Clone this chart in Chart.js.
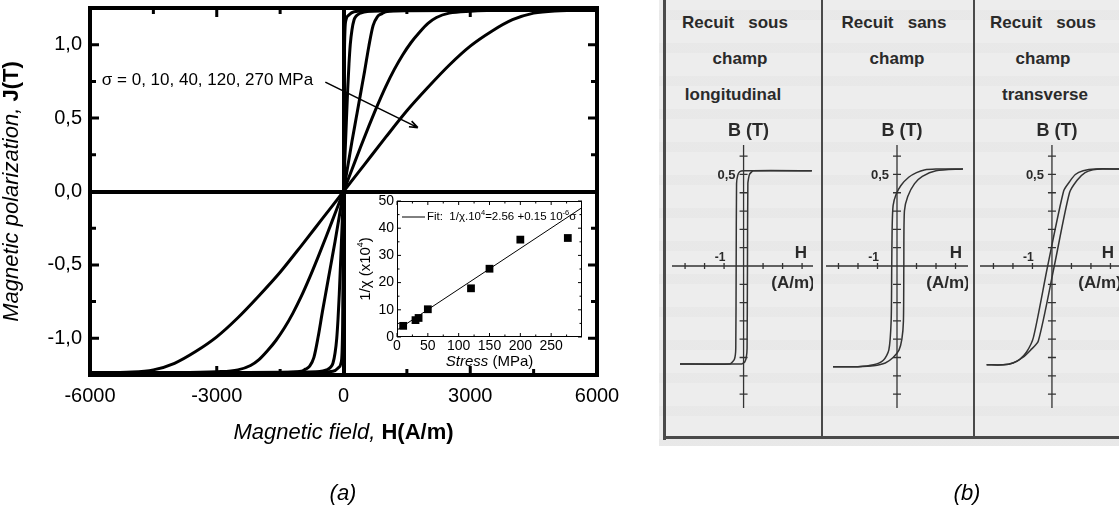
<!DOCTYPE html>
<html>
<head>
<meta charset="utf-8">
<title>Magnetic polarization under stress / annealing hysteresis loops</title>
<script src="https://cdn.jsdelivr.net/npm/chart.js@4.4.1/dist/chart.umd.min.js"></script>
<style>
  html, body { margin: 0; padding: 0; background: #fff; overflow: hidden; }
  #fig { position: relative; width: 1119px; height: 510px; overflow: hidden;
         font-family: "Liberation Sans", Arial, Helvetica, sans-serif; }
  canvas { position: absolute; display: block; }
  .tag { position: absolute; font-style: italic; font-size: 22px; color: #000;
         transform: translate(-50%, -50%); }
  #panelB { position: absolute; left: 0; top: 0; width: 1119px; height: 510px; filter: blur(0.45px); }
  #scanBg { position: absolute; left: 659px; top: 0; width: 470px; height: 446px; background-color: #ededed;
            background-image: repeating-linear-gradient(to bottom,
              rgba(0,0,0,0) 0px, rgba(0,0,0,0) 10px,
              rgba(0,0,0,0.018) 10px, rgba(0,0,0,0.018) 20px,
              rgba(0,0,0,0) 20px, rgba(0,0,0,0) 33px); }
  .rule { position: absolute; background: #4a4a4a; }
  .bt { position: absolute; font-weight: bold; font-size: 17px; color: #2a2a2a;
        transform: translate(-50%, -50%); white-space: pre; }
</style>
</head>
<body>
<div id="fig">
  <canvas id="cMain" width="640" height="510" style="left:0;top:0"></canvas>
  <canvas id="cInset" width="260" height="190" style="left:340px;top:190px"></canvas>
  <div class="tag" style="left:343px;top:493px">(a)</div>

  <div id="panelB">
    <div id="scanBg"></div>
    <div class="rule" style="left:663px;top:0;width:3px;height:440px"></div>
    <div class="rule" style="left:821px;top:0;width:2px;height:438px"></div>
    <div class="rule" style="left:973px;top:0;width:2px;height:438px"></div>
    <div class="rule" style="left:663px;top:436px;width:460px;height:3px"></div>

    <div class="bt" style="left:735px;top:23px">Recuit   sous</div>
    <div class="bt" style="left:740px;top:59px">champ</div>
    <div class="bt" style="left:733px;top:95px">longitudinal</div>

    <div class="bt" style="left:894px;top:23px">Recuit   sans</div>
    <div class="bt" style="left:897px;top:59px">champ</div>

    <div class="bt" style="left:1043px;top:23px">Recuit   sous</div>
    <div class="bt" style="left:1043px;top:59px">champ</div>
    <div class="bt" style="left:1045px;top:95px">transverse</div>

    <canvas id="cLong"  width="141" height="445" style="left:672px;top:0"></canvas>
    <canvas id="cSans"  width="142" height="445" style="left:826px;top:0"></canvas>
    <canvas id="cTrans" width="140" height="445" style="left:980px;top:0"></canvas>
  </div>
  <div class="tag" style="left:967px;top:493px">(b)</div>
</div>

<script>
const FONT = '"Liberation Sans", Arial, Helvetica, sans-serif';

// ---------- (a) J(H) curves for increasing tensile stress ----------
const stressLevels = [0, 10, 40, 120, 270]; // MPa

const fieldS0 = [-6000, -1500, -500, -250, -120, -60, -35, -20, -10, 0, 10, 20, 35, 60, 120, 250, 500, 1500, 6000];
const polS0   = [-1.235, -1.233, -1.23, -1.225, -1.2, -1.17, -1.1, -0.9, -0.5, 0, 0.5, 0.9, 1.1, 1.17, 1.2, 1.225, 1.23, 1.233, 1.235];

const fieldS10 = [-6000, -2000, -1000, -600, -400, -300, -250, -200, -160, -130, -100, -50, 0, 50, 100, 130, 160, 200, 250, 300, 400, 600, 1000, 2000, 6000];
const polS10   = [-1.235, -1.234, -1.232, -1.228, -1.215, -1.195, -1.17, -1.1, -1.0, -0.87, -0.7, -0.35, 0, 0.35, 0.7, 0.87, 1.0, 1.1, 1.17, 1.195, 1.215, 1.228, 1.232, 1.234, 1.235];

const fieldS40 = [-6000, -3000, -1500, -1000, -900, -800, -700, -600, -500, -400, -300, -200, -100, 0, 100, 200, 300, 400, 500, 600, 700, 800, 900, 1000, 1500, 3000, 6000];
const polS40   = [-1.235, -1.234, -1.232, -1.225, -1.21, -1.19, -1.13, -0.99, -0.82, -0.66, -0.5, -0.34, -0.17, 0, 0.17, 0.34, 0.5, 0.66, 0.82, 0.99, 1.13, 1.19, 1.21, 1.225, 1.232, 1.234, 1.235];

const fieldS120 = [-6000, -4000, -3000, -2500, -2200, -2000, -1800, -1600, -1400, -1200, -1000, -800, -600, -400, -200, 0, 200, 400, 600, 800, 1000, 1200, 1400, 1600, 1800, 2000, 2200, 2500, 3000, 4000, 6000];
const polS120   = [-1.235, -1.234, -1.228, -1.215, -1.185, -1.145, -1.085, -1.015, -0.93, -0.83, -0.715, -0.585, -0.445, -0.3, -0.15, 0, 0.15, 0.3, 0.445, 0.585, 0.715, 0.83, 0.93, 1.015, 1.085, 1.145, 1.185, 1.215, 1.228, 1.234, 1.235];

const fieldS270 = [-6000, -5000, -4500, -4000, -3500, -3000, -2500, -2000, -1500, -1000, -500, 0, 500, 1000, 1500, 2000, 2500, 3000, 3500, 4000, 4500, 5000, 6000];
const polS270   = [-1.235, -1.23, -1.215, -1.17, -1.09, -0.99, -0.86, -0.71, -0.55, -0.37, -0.185, 0, 0.185, 0.37, 0.55, 0.71, 0.86, 0.99, 1.09, 1.17, 1.215, 1.23, 1.235];

const fieldTicks      = [-6000, -3000, 0, 3000, 6000];
const fieldMinorTicks = [-4500, -1500, 1500, 4500];
const polTicks        = [-1, -0.5, 0, 0.5, 1];
const polMinorTicks   = [-0.75, -0.25, 0.25, 0.75];

// annotation: stress list with an arrow pointing along increasing stress
const stressNote = 'σ = 0, 10, 40, 120, 270 MPa';
const noteAnchor = { H: -5720, J: 0.76 };
const arrowFrom  = { H: -430, J: 0.745 };
const arrowTo    = { H: 1760, J: 0.435 };

// ---------- inset: inverse susceptibility vs stress ----------
const stressMPa   = [10, 30, 35, 50, 120, 150, 200, 277];
const invChi      = [4.1, 6.2, 7.0, 10.2, 17.9, 25.1, 35.8, 36.4];
const fitIntercept = 2.56;   // 1/χ·10⁴ at σ = 0
const fitSlope     = 0.15;   // per MPa (0.15·10⁻⁶ per Pa)
const fitRange     = [0, 300];
const stressTicks      = [0, 50, 100, 150, 200, 250];
const stressMinorTicks = [25, 75, 125, 175, 225, 275];
const invChiTicks      = [0, 10, 20, 30, 40, 50];
const invChiMinorTicks = [5, 15, 25, 35, 45];

// ---------- (b) B(H) loops after annealing ----------
const longDescH = [3.5, 0.0, -0.2, -0.3, -0.36, -0.38, -0.4, -0.47, -0.7, -3.26];
const longDescB = [0.52, 0.52, 0.515, 0.495, 0.45, 0, -0.45, -0.51, -0.535, -0.535];
const longAscH  = [-3.26, -0.1, 0.06, 0.14, 0.18, 0.2, 0.22, 0.3, 0.5, 3.5];
const longAscB  = [-0.535, -0.535, -0.525, -0.5, -0.45, 0, 0.45, 0.5, 0.52, 0.52];

const sansDescH = [3.38, 2.0, 1.4, 1.0, 0.6, 0.2, -0.05, -0.2, -0.25, -0.27, -0.3, -0.42, -0.7, -1.2, -2.0, -3.28];
const sansDescB = [0.53, 0.53, 0.525, 0.51, 0.485, 0.44, 0.39, 0.33, 0.2, 0, -0.3, -0.46, -0.515, -0.54, -0.55, -0.55];
const sansAscH  = [-3.28, -2.0, -1.2, -0.6, -0.2, 0.1, 0.25, 0.33, 0.35, 0.38, 0.55, 0.9, 1.3, 2.0, 3.38];
const sansAscB  = [-0.55, -0.55, -0.545, -0.53, -0.5, -0.46, -0.4, -0.3, 0, 0.3, 0.38, 0.45, 0.49, 0.52, 0.53];

const transDescH = [3.5, 2.2, 1.6, 1.2, 0.9, 0.6, -0.22, -0.95, -1.3, -1.65, -2.0, -2.5, -3.35];
const transDescB = [0.53, 0.53, 0.52, 0.5, 0.46, 0.41, 0, -0.39, -0.47, -0.51, -0.53, -0.54, -0.54];
const transAscH  = [-3.35, -2.5, -2.0, -1.5, -1.1, -0.7, 0.12, 0.9, 1.3, 1.7, 2.1, 2.6, 3.5];
const transAscB  = [-0.54, -0.54, -0.53, -0.5, -0.46, -0.41, 0, 0.4, 0.47, 0.51, 0.525, 0.53, 0.53];

const loopHTicks = [-3, -2, -1, 1, 2, 3];
const loopBTicks = [-0.7, -0.6, -0.5, -0.4, -0.3, -0.2, -0.1, 0.1, 0.2, 0.3, 0.4, 0.5, 0.6];

// ---------- helpers ----------
const toPoints = (xs, ys) => xs.map((v, i) => ({ x: v, y: ys[i] }));

// draws a sequence of text runs (mixed styles / superscripts) starting at x
function drawRuns(ctx, runs, x, y, align) {
  let total = 0;
  runs.forEach(r => { ctx.font = r.f; total += ctx.measureText(r.t).width; });
  let cx = align === 'center' ? x - total / 2 : x;
  ctx.textAlign = 'left';
  runs.forEach(r => {
    ctx.font = r.f;
    ctx.fillText(r.t, cx, y + (r.dy || 0));
    cx += ctx.measureText(r.t).width;
  });
}

// ---------- main chart ----------
const mainDecor = {
  id: 'mainDecor',
  afterDraw(chart) {
    const { ctx, chartArea: a, scales: { x, y } } = chart;
    ctx.save();
    ctx.strokeStyle = '#000';
    ctx.lineWidth = 3;
    ctx.beginPath();
    const vTick = (px, len) => { ctx.moveTo(px, a.bottom); ctx.lineTo(px, a.bottom - len); ctx.moveTo(px, a.top); ctx.lineTo(px, a.top + len); };
    const hTick = (py, len) => { ctx.moveTo(a.left, py); ctx.lineTo(a.left + len, py); ctx.moveTo(a.right, py); ctx.lineTo(a.right - len, py); };
    fieldTicks.forEach(v => vTick(x.getPixelForValue(v), 9));
    fieldMinorTicks.forEach(v => vTick(x.getPixelForValue(v), 6));
    polTicks.forEach(v => hTick(y.getPixelForValue(v), 9));
    polMinorTicks.forEach(v => hTick(y.getPixelForValue(v), 6));
    ctx.stroke();
    ctx.lineWidth = 4;
    ctx.strokeRect(a.left, a.top, a.right - a.left, a.bottom - a.top);

    // axis titles
    ctx.fillStyle = '#000';
    ctx.textBaseline = 'middle';
    drawRuns(ctx, [
      { t: 'Magnetic field, ', f: 'italic 22px ' + FONT },
      { t: 'H(A/m)', f: 'bold 22px ' + FONT }
    ], (a.left + a.right) / 2, 433, 'center');
    ctx.save();
    ctx.translate(12, (a.top + a.bottom) / 2);
    ctx.rotate(-Math.PI / 2);
    drawRuns(ctx, [
      { t: 'Magnetic polarization, ', f: 'italic 22px ' + FONT },
      { t: 'J(T)', f: 'bold 22px ' + FONT }
    ], 0, 0, 'center');
    ctx.restore();

    // stress annotation and arrow
    ctx.font = '17px ' + FONT;
    ctx.textAlign = 'left';
    ctx.fillText(stressNote, x.getPixelForValue(noteAnchor.H), y.getPixelForValue(noteAnchor.J));
    const x1 = x.getPixelForValue(arrowFrom.H), y1 = y.getPixelForValue(arrowFrom.J);
    const x2 = x.getPixelForValue(arrowTo.H),   y2 = y.getPixelForValue(arrowTo.J);
    ctx.lineWidth = 1.6;
    ctx.beginPath();
    ctx.moveTo(x1, y1); ctx.lineTo(x2, y2);
    const ang = Math.atan2(y2 - y1, x2 - x1);
    ctx.moveTo(x2, y2); ctx.lineTo(x2 - 9 * Math.cos(ang - 0.35), y2 - 9 * Math.sin(ang - 0.35));
    ctx.moveTo(x2, y2); ctx.lineTo(x2 - 9 * Math.cos(ang + 0.35), y2 - 9 * Math.sin(ang + 0.35));
    ctx.stroke();
    ctx.restore();
  }
};

const curveSets = [
  [fieldS0, polS0], [fieldS10, polS10], [fieldS40, polS40], [fieldS120, polS120], [fieldS270, polS270]
];

new Chart(document.getElementById('cMain'), {
  type: 'scatter',
  data: {
    datasets: curveSets.map(([h, j], i) => ({
      label: 'σ = ' + stressLevels[i] + ' MPa',
      data: toPoints(h, j),
      showLine: true,
      borderColor: '#000',
      borderWidth: 3,
      pointRadius: 0,
      cubicInterpolationMode: 'monotone',
      fill: false
    }))
  },
  options: {
    responsive: false, animation: false, devicePixelRatio: 1, events: [],
    layout: { padding: { left: 0, top: 8, right: 43, bottom: 0 } },
    plugins: { legend: { display: false }, tooltip: { enabled: false } },
    scales: {
      x: {
        type: 'linear', min: -6000, max: 6000,
        afterBuildTicks: s => { s.ticks = fieldTicks.map(v => ({ value: v })); },
        afterFit: s => { s.height = 135; s.paddingLeft = 0; s.paddingRight = 0; },
        grid: { color: c => (c.tick && c.tick.value === 0) ? '#000' : 'rgba(0,0,0,0)', lineWidth: 4, drawTicks: false },
        border: { display: false },
        ticks: { color: '#000', padding: 9, maxRotation: 0, autoSkip: false,
                 font: { family: FONT, size: 20 }, callback: v => String(v) }
      },
      y: {
        type: 'linear', min: -1.25, max: 1.25,
        afterBuildTicks: s => { s.ticks = polTicks.map(v => ({ value: v })); },
        afterFit: s => { s.width = 90; s.paddingTop = 0; s.paddingBottom = 0; },
        grid: { color: c => (c.tick && c.tick.value === 0) ? '#000' : 'rgba(0,0,0,0)', lineWidth: 4, drawTicks: false },
        border: { display: false },
        ticks: { color: '#000', padding: 8, autoSkip: false,
                 font: { family: FONT, size: 20 },
                 callback: v => v.toFixed(1).replace('.', ',') }
      }
    }
  },
  plugins: [mainDecor]
});

// ---------- inset chart ----------
const insetDecor = {
  id: 'insetDecor',
  beforeDraw(chart) {
    const { ctx, chartArea: a } = chart;
    ctx.save();
    ctx.fillStyle = '#fff';
    ctx.fillRect(a.left, a.top, a.right - a.left, a.bottom - a.top);
    ctx.restore();
  },
  afterDraw(chart) {
    const { ctx, chartArea: a, scales: { x, y } } = chart;
    ctx.save();
    ctx.strokeStyle = '#000';
    ctx.lineWidth = 1;
    ctx.beginPath();
    const vTick = (px, len) => { ctx.moveTo(px, a.bottom); ctx.lineTo(px, a.bottom - len); ctx.moveTo(px, a.top); ctx.lineTo(px, a.top + len); };
    const hTick = (py, len) => { ctx.moveTo(a.left, py); ctx.lineTo(a.left + len, py); ctx.moveTo(a.right, py); ctx.lineTo(a.right - len, py); };
    stressTicks.forEach(v => vTick(x.getPixelForValue(v), 4));
    stressMinorTicks.forEach(v => vTick(x.getPixelForValue(v), 2.5));
    invChiTicks.forEach(v => hTick(y.getPixelForValue(v), 4));
    invChiMinorTicks.forEach(v => hTick(y.getPixelForValue(v), 2.5));
    ctx.stroke();
    ctx.strokeRect(a.left + 0.5, a.top + 0.5, a.right - a.left - 1, a.bottom - a.top - 1);

    // legend for the fit line
    const ly = a.top + 16;
    ctx.beginPath();
    ctx.moveTo(a.left + 5, ly); ctx.lineTo(a.left + 28, ly);
    ctx.stroke();
    ctx.fillStyle = '#000';
    ctx.textBaseline = 'middle';
    drawRuns(ctx, [
      { t: 'Fit:  1/χ.10', f: '11.5px ' + FONT },
      { t: '4', f: '7.5px ' + FONT, dy: -4 },
      { t: '=2.56 +0.15 10', f: '11.5px ' + FONT },
      { t: '-6', f: '7.5px ' + FONT, dy: -4 },
      { t: 'σ', f: '11.5px ' + FONT }
    ], a.left + 30, ly, 'left');

    // axis titles
    drawRuns(ctx, [
      { t: 'Stress', f: 'italic 15px ' + FONT },
      { t: ' (MPa)', f: '15px ' + FONT }
    ], (a.left + a.right) / 2, a.bottom + 25, 'center');
    ctx.save();
    ctx.translate(a.left - 31, (a.top + a.bottom) / 2);
    ctx.rotate(-Math.PI / 2);
    drawRuns(ctx, [
      { t: '1/χ (x10', f: '15px ' + FONT },
      { t: '4', f: '9px ' + FONT, dy: -5 },
      { t: ')', f: '15px ' + FONT }
    ], 0, 0, 'center');
    ctx.restore();
    ctx.restore();
  }
};

new Chart(document.getElementById('cInset'), {
  type: 'scatter',
  data: {
    datasets: [
      {
        label: 'measured',
        data: toPoints(stressMPa, invChi),
        pointStyle: 'rect', pointRadius: 5.5, pointBorderWidth: 0,
        backgroundColor: '#000', borderColor: '#000', showLine: false
      },
      {
        label: 'fit',
        data: fitRange.map(s => ({ x: s, y: fitIntercept + fitSlope * s })),
        showLine: true, borderColor: '#000', borderWidth: 1, pointRadius: 0
      }
    ]
  },
  options: {
    responsive: false, animation: false, devicePixelRatio: 1, events: [],
    layout: { padding: { left: 0, top: 11, right: 18, bottom: 0 } },
    plugins: { legend: { display: false }, tooltip: { enabled: false } },
    scales: {
      x: {
        type: 'linear', min: 0, max: 300,
        afterBuildTicks: s => { s.ticks = stressTicks.map(v => ({ value: v })); },
        afterFit: s => { s.height = 43; s.paddingLeft = 0; s.paddingRight = 0; },
        grid: { display: false, drawTicks: false }, border: { display: false },
        ticks: { color: '#000', padding: 1, maxRotation: 0, autoSkip: false,
                 font: { family: FONT, size: 14 } }
      },
      y: {
        type: 'linear', min: 0, max: 50,
        afterBuildTicks: s => { s.ticks = invChiTicks.map(v => ({ value: v })); },
        afterFit: s => { s.width = 57; s.paddingTop = 0; s.paddingBottom = 0; },
        grid: { display: false, drawTicks: false }, border: { display: false },
        ticks: { color: '#000', padding: 3, autoSkip: false,
                 font: { family: FONT, size: 14 } }
      }
    }
  },
  plugins: [insetDecor]
});

// ---------- (b) hysteresis loop panels ----------
const INK = '#333';
const loopAxes = {
  id: 'loopAxes',
  beforeDatasetsDraw(chart) {
    const { ctx, chartArea: a, scales: { x, y } } = chart;
    const x0 = x.getPixelForValue(0), y0 = y.getPixelForValue(0);
    ctx.save();
    ctx.strokeStyle = INK;
    ctx.lineWidth = 1.3;
    ctx.beginPath();
    ctx.moveTo(a.left, y0); ctx.lineTo(a.right, y0);
    ctx.moveTo(x0, a.top); ctx.lineTo(x0, a.bottom);
    loopHTicks.forEach(v => { const px = x.getPixelForValue(v); ctx.moveTo(px, y0 - 3); ctx.lineTo(px, y0 + 3); });
    loopBTicks.forEach(v => { const py = y.getPixelForValue(v); ctx.moveTo(x0 - 4, py); ctx.lineTo(x0 + 4, py); });
    ctx.stroke();

    ctx.fillStyle = '#2a2a2a';
    ctx.textBaseline = 'middle';
    ctx.textAlign = 'center';
    ctx.font = 'bold 18px ' + FONT;
    ctx.fillText('B (T)', x0 + 5, 131);
    ctx.font = 'bold 17px ' + FONT;
    ctx.fillText('H', a.right - 12, 253);
    ctx.fillText('(A/m)', a.right - 20, 283);
    ctx.font = 'bold 12px ' + FONT;
    ctx.fillText('-1', x.getPixelForValue(-1) - 4, y0 - 8);
    ctx.textAlign = 'right';
    ctx.font = 'bold 13px ' + FONT;
    ctx.fillText('0,5', x0 - 8, y.getPixelForValue(0.5) + 1);
    ctx.restore();
  }
};

function loopPanel(id, hMin, hMax, desc, asc, tension) {
  const ds = pts => ({
    data: pts, showLine: true, borderColor: INK, borderWidth: 1.5,
    pointRadius: 0, tension: tension, fill: false
  });
  new Chart(document.getElementById(id), {
    type: 'scatter',
    data: { datasets: [ds(desc), ds(asc)] },
    options: {
      responsive: false, animation: false, devicePixelRatio: 1, events: [],
      layout: { padding: { left: 0, right: 0, top: 145, bottom: 37 } },
      plugins: { legend: { display: false }, tooltip: { enabled: false } },
      scales: {
        x: { type: 'linear', min: hMin, max: hMax, display: false },
        y: { type: 'linear', min: -0.776, max: 0.661, display: false }
      }
    },
    plugins: [loopAxes]
  });
}

loopPanel('cLong', -3.67, 3.56, toPoints(longDescH, longDescB), toPoints(longAscH, longAscB), 0.15);
loopPanel('cSans', -3.64, 3.64, toPoints(sansDescH, sansDescB), toPoints(sansAscH, sansAscB), 0.25);
loopPanel('cTrans', -3.69, 3.49, toPoints(transDescH, transDescB), toPoints(transAscH, transAscB), 0.25);
</script>
</body>
</html>
